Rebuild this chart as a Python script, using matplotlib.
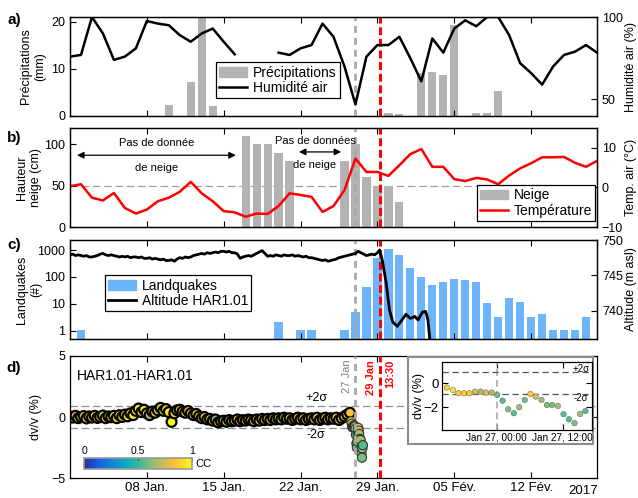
import numpy as np
import matplotlib
matplotlib.use('Agg')
import matplotlib.pyplot as plt
from matplotlib.colors import LinearSegmentedColormap, Normalize
from matplotlib.cm import ScalarMappable
from matplotlib.patches import Rectangle, Patch
from matplotlib.lines import Line2D
from matplotlib.ticker import NullLocator

plt.rcParams['font.family'] = ['Liberation Sans', 'DejaVu Sans']
plt.rcParams['axes.linewidth'] = 0.9

nan = np.nan

# time axis in days since 1 Jan 2017 00:00
tick_days = [7, 14, 21, 28, 35, 42]
tick_labels = ['08 Jan.', '15 Jan.', '22 Jan.', '29 Jan.', '05 Fév.', '12 Fév.']
day_27jan = 26
day_event = 28.25

# a) precipitation and air humidity
precip_days = [9, 11, 12, 13, 29, 30, 32, 33, 34, 35, 37, 38, 39, 42]
precip_mm = [2.4, 7.2, 21, 2.2, 0.6, 0.5, 9.2, 9.4, 8.6, 19.2, 0.7, 0.7, 5.4, 0.1]
hum_days = list(range(0, 49))
humidity = [76, 77, 100, 90, 74, 76, 81, 97.6, 96, 95, 89, 85, 90, 93, 85, 77.4,
            nan, nan, nan, 78.4, 77, 81, 83, 96, 88, 70, 47, 76, 83, 83, 88, 75,
            61, 87, 78.4, 93, 98, 94.4, 100, 100, 89, 72, 66, 59, 70, 77, 79, 83, 78.4]

# b) snow height and air temperature
snow_days = [16, 17, 18, 19, 20, 25, 26, 27, 28, 29, 30]
snow_cm = [110, 100, 100, 90, 80, 80, 100, 60, 50, 50, 30]
temp_days = list(range(0, 49))
temperature = [0.3, 0.8, -2.6, -3.3, -1.4, -5.2, -6.6, -5.6, -3.5, -2.6, -1.1, 1.4,
               -1.5, -3.5, -6.0, -6.3, -7.4, -6.6, -6.7, -4.7, -1.5, -1.9, -2.4, -6.2,
               -4.7, -0.7, 7.3, 3.9, 3.9, 2.9, 5.6, 8.4, 9.7, 5.2, 5.2, 2.1, 1.6, 2.4,
               2.0, 0.8, 3.0, 4.8, 6.1, 7.6, 7.6, 7.7, 6.2, 5.2, 6.7]

# c) landquakes per day and GPS altitude
lq_days = [1, 19, 21, 22, 25, 26, 27, 28, 29, 30, 31, 32, 33, 34, 35, 36, 37, 38,
           39, 40, 41, 42, 43, 44, 45, 46, 47]
lq_count = [1, 2, 1, 1, 1, 5, 41, 515, 1050, 630, 216, 97, 48, 67, 84, 78, 62, 11,
            3, 16, 12, 3, 4, 1, 1, 1, 3]
alt_before = [747.9, 748.0, 747.8, 747.9, 747.8, 747.7, 747.8, 747.6,
              747.6, 747.7, 747.8, 748.0, 748.1, 747.9, 747.8, 747.9,
              747.8, 747.7, 747.6, 747.7, 747.6, 747.7, 747.5, 747.6,
              747.6, 747.5, 747.6, 747.4, 747.4, 747.5, 747.3, 747.4,
              747.3, 747.2, 747.3, 747.1, 747.1, 747.2, 747.0, 747.3,
              747.5, 747.4, 747.6, 747.5, 747.6, 747.8, 747.9, 748.0,
              748.1, 748.0, 748.2, 748.1, 748.2, 748.3, 748.2, 748.4,
              748.4, 748.3, 748.4, 748.2, 748.2, 748.0, 747.4, 747.6,
              747.7, 747.8, 747.7, 747.9, 748.1, 748.3, 748.5, 748.1,
              747.7, 747.8, 747.7, 747.9, 747.8, 747.7, 747.9, 747.8,
              747.8, 747.9, 747.7, 747.8, 747.7, 747.6, 747.7, 747.5,
              747.5, 747.4, 747.3, 747.2, 747.1, 747.2, 747.0, 747.1,
              747.2, 747.3, 747.5, 747.6, 747.7, 747.8, 747.9, 748.0,
              748.1, 748.4, 748.2, 748.0, 747.8, 747.9, 748.0, 747.9,
              748.2]
alt_after_days = [28.2, 28.45, 28.8, 29.1, 29.4, 29.8, 30.1, 30.6, 31.0, 31.4,
                  31.7, 32.1, 32.4, 32.6, 32.9]
alt_after = [748.6, 747.1, 743.9, 740.1, 738.4, 737.8, 738.4, 739.5, 738.9, 739.2,
             738.7, 739.8, 739.9, 738.7, 734.0]

# d) dv/v and correlation coefficient (every 6 h until 25.5)
dvv_main = [0.05, -0.05, 0.1, -0.1, 0.0, 0.08, -0.12, 0.05, -0.05, 0.1,
            -0.08, 0.0, 0.12, -0.1, 0.05, -0.02, 0.1, -0.1, 0.15, 0.0,
            0.2, 0.05, 0.3, 0.15, 0.5, 0.7, 0.4, 0.6, 0.3, 0.15, 0.45, 0.35,
            0.55, 0.75, 0.5, 0.65, 0.4, -0.4, 0.3, 0.55, 0.6, 0.45, 0.35, 0.5,
            0.3, 0.15, 0.25, 0.05, -0.1, 0.0, -0.2, -0.15, -0.3, -0.2, -0.45, -0.35,
            -0.3, -0.4, -0.25, -0.35, -0.3, -0.2, -0.35, -0.25, -0.3, -0.2, -0.25, -0.35,
            -0.2, -0.3, -0.15, -0.25, -0.15, -0.25, -0.1, -0.2, -0.1, -0.2, -0.05, -0.15,
            -0.1, -0.25, -0.15, -0.05, -0.2, -0.1, -0.25, -0.15, -0.1, -0.2, -0.05, -0.25,
            -0.15, -0.05, -0.2, -0.1, -0.15, -0.05, -0.25, -0.1, 0.05, 0.2, 0.35]
cc_main = [0.95, 0.9, 0.85, 0.97, 0.92, 0.88, 0.95, 0.9, 0.82, 0.96,
           0.9, 0.87, 0.93, 0.98, 0.85, 0.9, 0.94, 0.88, 0.96, 0.9,
           0.85, 0.95, 0.9, 0.97, 0.93, 0.98, 0.88, 0.95, 0.9, 0.65, 0.85, 0.92,
           0.95, 0.88, 0.97, 0.9, 0.93, 1.0, 0.9, 0.85, 0.95, 0.9, 0.97, 0.88,
           0.85, 0.95, 0.92, 0.9, 0.72, 0.95, 0.88, 0.93, 0.9, 0.62, 0.95, 0.87,
           0.93, 0.9, 0.7, 0.95, 0.88, 0.96, 0.9, 0.85, 0.92, 0.7, 0.95, 0.9,
           0.87, 0.93, 0.98, 0.9, 0.95, 0.88, 0.92, 0.66, 0.9, 0.97, 0.88, 0.93,
           0.95, 0.9, 0.68, 0.92, 0.88, 0.96, 0.9, 0.94, 0.92, 0.87, 0.95, 0.9,
           0.7, 0.93, 0.88, 0.96, 0.9, 0.94, 0.87, 0.92, 0.9, 0.88, 0.85]
# hourly values around 27 Jan (hours from 27 Jan 00:00)
zoom_hours = [-9.05, -7.96, -6.95, -5.92, -4.96, -3.93, -2.9, -1.94, -0.9, 0.1,
              1.08, 2.1, 3.13, 4.09, 5.12, 6.15, 7.1, 8.15, 9.16, 10.1, 11.15,
              12.18, 13.14, 14.17, 15.2, 16.16]
zoom_dvv = [-0.36, -0.56, -0.83, -0.83, -0.83, -0.7, -0.7, -0.78, -0.78, -0.97,
            -1.45, -2.17, -2.5, -2.0, -1.39, -0.89, -1.11, -1.39, -1.81, -1.81,
            -1.89, -2.58, -3.0, -3.33, -2.56, -2.31]
zoom_cc = [0.88, 0.93, 0.86, 0.87, 0.86, 0.78, 0.66, 0.78, 0.7, 0.6, 0.55, 0.62,
           0.55, 0.65, 0.58, 0.86, 0.76, 0.66, 0.6, 0.6, 0.68, 0.55, 0.55, 0.6,
           0.66, 0.55]
sigma2 = 0.93

parula = LinearSegmentedColormap.from_list('parula', [
    (0.0, (0.2081, 0.1663, 0.5292)), (0.111, (0.0591, 0.3598, 0.8683)),
    (0.238, (0.0779, 0.5040, 0.8384)), (0.365, (0.0231, 0.6418, 0.7913)),
    (0.492, (0.1801, 0.7177, 0.6424)), (0.619, (0.5300, 0.7491, 0.4661)),
    (0.746, (0.8185, 0.7327, 0.3498)), (0.841, (0.9938, 0.7455, 0.2403)),
    (1.0, (0.9763, 0.9831, 0.0538))])
norm = Normalize(0, 1)

GRAY = '#b3b3b3'
BLUE = '#6cb4fb'
W, H = 638, 498
fig = plt.figure(figsize=(W / 100, H / 100), dpi=100)


def px_axes(x0, y0, x1, y1):
    return fig.add_axes([x0 / W, 1 - y1 / H, (x1 - x0) / W, (y1 - y0) / H])


def base(ax, labels=False):
    ax.set_xlim(0, 48)
    ax.set_xticks(tick_days)
    if labels:
        ax.set_xticklabels(tick_labels)
    else:
        ax.set_xticklabels([])
    ax.tick_params(direction='in', top=True, length=4, labelsize=9, width=0.8)
    ax.tick_params(axis='x', labelsize=9.5, pad=3)
    ax.axvline(day_27jan, color='#a8a8a8', lw=2, ls=(0, (2.5, 1.8)), zorder=4)
    ax.axvline(day_event, color='red', lw=2.2, ls=(0, (2.6, 1.2)), zorder=5)


def right(ax):
    tw = ax.twinx()
    tw.tick_params(direction='in', length=4, labelsize=9, width=0.8)
    return tw


def legend(tw, handles, labels, anchor):
    leg = tw.legend(handles, labels, loc='upper left', bbox_to_anchor=anchor,
                    fancybox=False, edgecolor='black', framealpha=1, fontsize=10,
                    borderpad=0.25, labelspacing=0.1, handlelength=2.0,
                    handletextpad=0.4, borderaxespad=0)
    leg.get_frame().set_linewidth(0.9)


# ---- a)
ax_a = px_axes(70, 17, 597, 116)
base(ax_a)
ax_a.bar(precip_days, precip_mm, width=0.75, color=GRAY)
ax_a.set_ylim(0, 21)
ax_a.set_yticks([0, 10, 20])
ax_a.set_ylabel('Précipitations\n(mm)', fontsize=9)
ax_a.yaxis.set_label_coords(-0.045, 0.5)
tw_a = right(ax_a)
tw_a.plot(hum_days, humidity, color='black', lw=1.8)
tw_a.set_ylim(40, 100)
tw_a.set_yticks([50, 100])
tw_a.set_ylabel('Humidité air (%)', fontsize=9)
tw_a.yaxis.set_label_coords(1.053, 0.5)
legend(tw_a, [Patch(color=GRAY), Line2D([], [], color='black', lw=1.8)],
       ['Précipitations', 'Humidité air'], (0.277, 0.545))

# ---- b)
ax_b = px_axes(70, 128, 597, 227)
base(ax_b)
ax_b.axhline(50, color='#a0a0a0', lw=0.9, ls=(0, (6, 3)), zorder=0.5)
ax_b.bar(snow_days, snow_cm, width=0.75, color=GRAY)
ax_b.set_ylim(0, 120)
ax_b.set_yticks([0, 50, 100])
ax_b.set_ylabel('Hauteur\nneige (cm)', fontsize=9)
ax_b.yaxis.set_label_coords(-0.053, 0.5)
arrow = dict(arrowstyle='<|-|>', color='black', lw=0.9, mutation_scale=10,
             shrinkA=0, shrinkB=0)
ax_b.annotate('', xy=(0.64, 87), xytext=(15.1, 87), arrowprops=arrow, zorder=6)
ax_b.text(7.9, 102, 'Pas de donnée', fontsize=8, ha='center', va='center', zorder=6)
ax_b.text(7.9, 71.5, 'de neige', fontsize=8, ha='center', va='center', zorder=6)
ax_b.annotate('', xy=(20.85, 91), xytext=(24.7, 91), arrowprops=arrow, zorder=6)
ax_b.text(22.4, 104, 'Pas de données', fontsize=8, ha='center', va='center', zorder=6)
ax_b.text(22.3, 75, 'de neige', fontsize=8, ha='center', va='center', zorder=6)
tw_b = right(ax_b)
tw_b.plot(temp_days, temperature, color='red', lw=1.8)
tw_b.set_ylim(-10, 15)
tw_b.set_yticks([-10, 0, 10])
tw_b.set_ylabel('Temp. air (°C)', fontsize=9)
tw_b.yaxis.set_label_coords(1.053, 0.5)
legend(tw_b, [Patch(color=GRAY), Line2D([], [], color='red', lw=1.8)],
       ['Neige', 'Température'], (0.772, 0.424))

# ---- c)
ax_c = px_axes(70, 240, 597, 339)
base(ax_c)
ax_c.set_yscale('log')
ax_c.bar(lq_days, lq_count, width=0.75, color=BLUE, bottom=0.1)
ax_c.set_ylim(0.49, 2370)
ax_c.set_yticks([1, 10, 100, 1000])
ax_c.set_yticklabels(['1', '10', '100', '1000'])
ax_c.yaxis.set_minor_locator(NullLocator())
ax_c.set_ylabel('Landquakes\n(#)', fontsize=9)
ax_c.yaxis.set_label_coords(-0.053, 0.5)
tw_c = right(ax_c)
alt_days = list(np.arange(0, 28.01, 0.25)) + alt_after_days
tw_c.plot(alt_days, alt_before + alt_after, color='black', lw=2.0)
tw_c.set_ylim(736, 750)
tw_c.set_yticks([740, 745, 750])
tw_c.set_ylabel('Altitude (m asl)', fontsize=9)
tw_c.yaxis.set_label_coords(1.053, 0.5)
legend(tw_c, [Patch(color=BLUE), Line2D([], [], color='black', lw=2.0)],
       ['Landquakes', 'Altitude HAR1.01'], (0.066, 0.646))

# ---- d)
ax_d = px_axes(70, 356, 597, 478)
base(ax_d, labels=True)
ax_d.tick_params(axis='y', right=True)
ax_d.set_ylim(-5, 5)
ax_d.set_yticks([-5, 0, 5])
ax_d.set_ylabel('dv/v (%)', fontsize=9)
ax_d.yaxis.set_label_coords(-0.053, 0.5)
for s in (sigma2, -sigma2):
    ax_d.axhline(s, color='#8c8c8c', lw=0.9, ls=(0, (6, 3)), zorder=0.5)
main_days = list(np.arange(0, 25.51, 0.25)) + [day_27jan + h / 24 for h in zoom_hours]
main_dvv = dvv_main + zoom_dvv
main_cc = cc_main + zoom_cc
n_old = len(dvv_main)
ax_d.scatter(main_days[:n_old], main_dvv[:n_old], c=main_cc[:n_old], cmap=parula,
             norm=norm, s=50, edgecolors='black', linewidths=1.6, zorder=2)
ax_d.scatter(main_days[n_old:], main_dvv[n_old:], c=main_cc[n_old:], cmap=parula,
             norm=norm, s=44, edgecolors='#333333', linewidths=0.8, zorder=2)
ax_d.text(0.013, 0.832, 'HAR1.01-HAR1.01', transform=ax_d.transAxes, fontsize=10,
          ha='left', va='center')
ax_d.text(22.4, 1.56, '+2σ', fontsize=9, ha='center', va='center')
ax_d.text(22.4, -1.5, '-2σ', fontsize=9, ha='center', va='center')
ax_d.text(25.2, 4.7, '27 Jan', color='#808080', fontsize=8, rotation=90,
          ha='center', va='top')
ax_d.text(27.4, 4.7, '29 Jan', color='red', fontsize=8, fontweight='bold',
          rotation=90, ha='center', va='top')
ax_d.text(29.15, 4.7, '13:30', color='red', fontsize=8, fontweight='bold',
          rotation=90, ha='center', va='top')

# colour bar
cax = px_axes(84, 458, 192, 469)
cb = fig.colorbar(ScalarMappable(norm=norm, cmap=parula), cax=cax,
                  orientation='horizontal')
cb.set_ticks([0, 0.5, 1])
cb.set_ticklabels(['0', '0.5', '1'])
cax.xaxis.set_ticks_position('top')
cax.tick_params(direction='in', length=2.5, labelsize=7.5, pad=1.5, color='#555555')
cb.outline.set_edgecolor('#999999')
cb.outline.set_linewidth(1.2)
fig.text(195 / W, 1 - 463.5 / H, 'CC', fontsize=8, ha='left', va='center')

# inset
fig.patches.append(Rectangle((408 / W, 1 - 444 / H), 185 / W, 87 / H,
                             transform=fig.transFigure, facecolor='white',
                             edgecolor='#8c8c8c', lw=1.5, zorder=2))
ins = px_axes(441.7, 361.7, 591.7, 430)
ins.set_zorder(3)
ins.set_xlim(-10, 17.3)
ins.set_ylim(-3.9, 1.8)
ins.set_xticks([0, 12])
ins.set_xticklabels(['Jan 27, 00:00', 'Jan 27, 12:00'])
ins.set_yticks([0, -2])
ins.tick_params(direction='in', top=True, right=True, length=4, width=0.8)
ins.tick_params(axis='x', labelsize=7.2, pad=2)
ins.tick_params(axis='y', labelsize=9.5, pad=2)
ins.axvline(0, color='#a8a8a8', lw=1.2, ls=(0, (4, 2.5)))
for s in (0.9, -0.9):
    ins.axhline(s, color='#555555', lw=0.9, ls=(0, (5, 3)))
ins.scatter(zoom_hours, zoom_dvv, c=zoom_cc, cmap=parula, norm=norm, s=16,
            edgecolors='#555555', linewidths=0.3, zorder=3)
ins.text(15.4, 1.2, '+2σ', fontsize=7, ha='center', va='center')
ins.text(15.4, -1.25, '-2σ', fontsize=7, ha='center', va='center')
ins.set_ylabel('dv/v (%)', fontsize=9)
ins.yaxis.set_label_coords(-0.111, 0.5)

# panel letters and year
for lab, yy in [('a)', 20), ('b)', 138), ('c)', 245), ('d)', 368)]:
    fig.text(14 / W, 1 - yy / H, lab, fontsize=11, fontweight='bold',
             ha='center', va='center')
fig.text(583 / W, 1 - 491 / H, '2017', fontsize=9.5, ha='center', va='center')

fig.savefig('out.png', dpi=100)
